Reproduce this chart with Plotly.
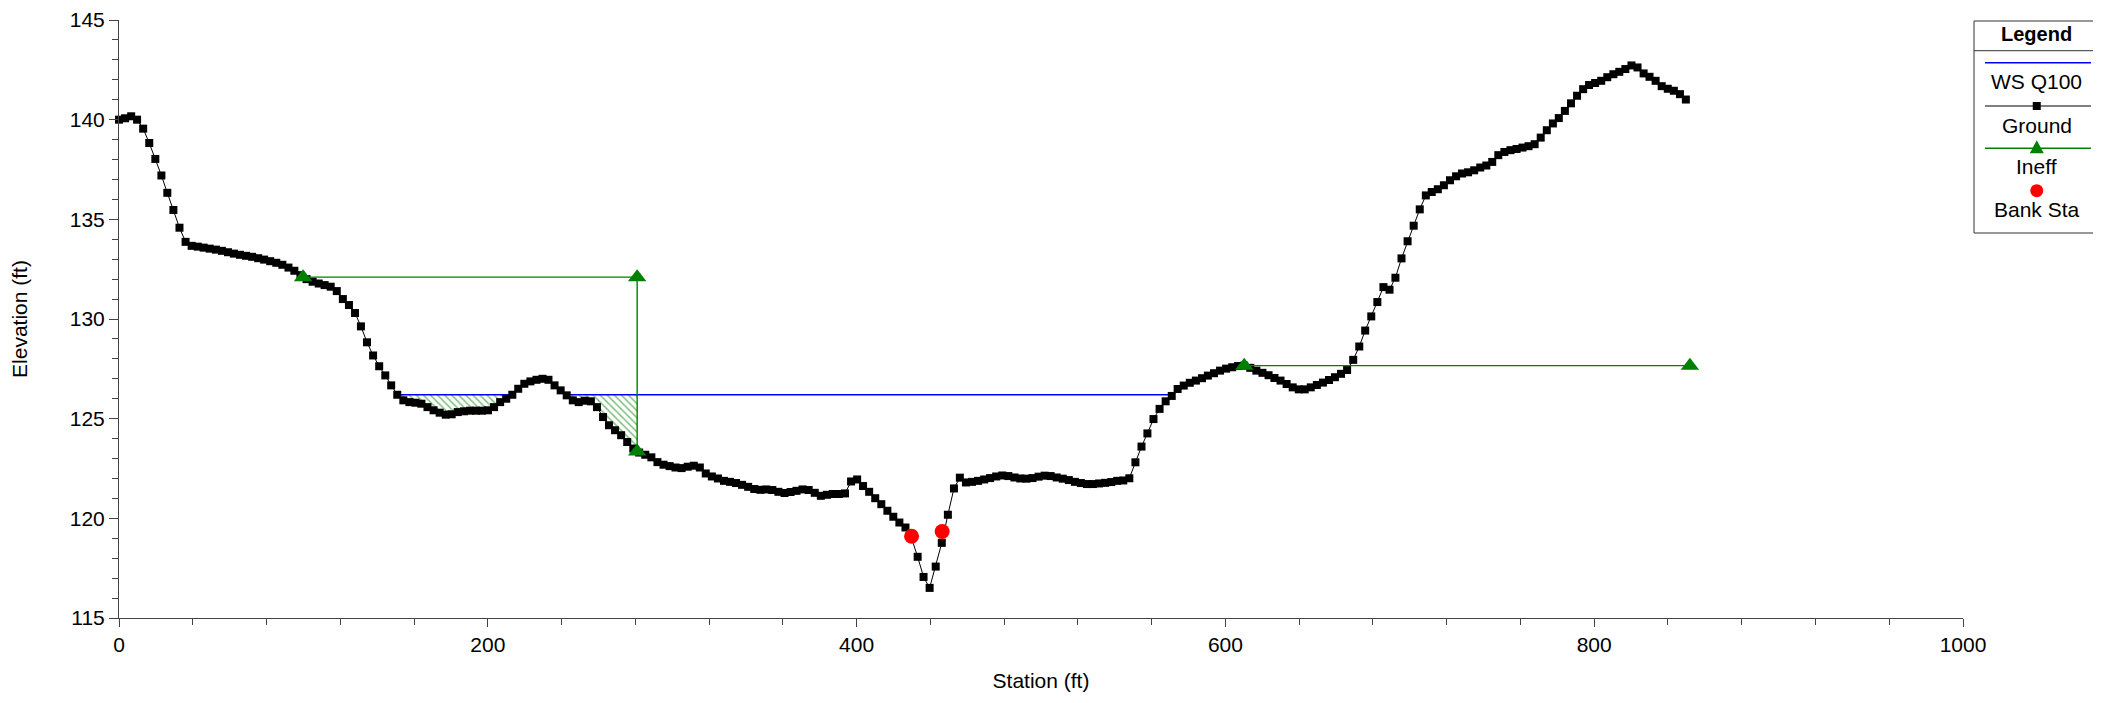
import plotly.graph_objects as go

# ---------------- data ----------------
STATION = [
    0.0, 3.3, 6.6, 9.8, 13.1, 16.4, 19.7, 23.0, 26.2, 29.5,
    32.8, 36.1, 39.4, 42.7, 45.9, 49.2, 52.5, 55.8, 59.1, 62.3,
    65.6, 68.9, 72.2, 75.5, 78.7, 82.0, 85.3, 88.6, 91.9, 95.1,
    98.4, 101.7, 105.0, 108.3, 111.5, 114.8, 118.1, 121.4, 124.7, 128.0,
    131.2, 134.5, 137.8, 141.1, 144.4, 147.6, 150.9, 154.2, 157.5, 160.8,
    164.0, 167.3, 170.6, 173.9, 177.2, 180.4, 183.7, 187.0, 190.3, 193.6,
    196.8, 200.1, 203.4, 206.7, 210.0, 213.3, 216.5, 219.8, 223.1, 226.4,
    229.7, 232.9, 236.2, 239.5, 242.8, 246.1, 249.3, 252.6, 255.9, 259.2,
    262.5, 265.7, 269.0, 272.3, 275.6, 278.9, 282.1, 285.4, 288.7, 292.0,
    295.3, 298.6, 301.8, 305.1, 308.4, 311.7, 315.0, 318.2, 321.5, 324.8,
    328.1, 331.4, 334.6, 337.9, 341.2, 344.5, 347.8, 351.0, 354.3, 357.6,
    360.9, 364.2, 367.4, 370.7, 374.0, 377.3, 380.6, 383.9, 387.1, 390.4,
    393.7, 397.0, 400.3, 403.5, 406.8, 410.1, 413.4, 416.7, 419.9, 423.2,
    426.5, 429.8, 433.1, 436.3, 439.6, 442.9, 446.2, 449.5, 452.8, 456.0,
    459.3, 462.6, 465.9, 469.2, 472.4, 475.7, 479.0, 482.3, 485.6, 488.8,
    492.1, 495.4, 498.7, 502.0, 505.2, 508.5, 511.8, 515.1, 518.4, 521.6,
    524.9, 528.2, 531.5, 534.8, 538.1, 541.3, 544.6, 547.9, 551.2, 554.5,
    557.7, 561.0, 564.3, 567.6, 570.9, 574.1, 577.4, 580.7, 584.0, 587.3,
    590.5, 593.8, 597.1, 600.4, 603.7, 606.9, 610.2, 613.5, 616.8, 620.1,
    623.4, 626.6, 629.9, 633.2, 636.5, 639.8, 643.0, 646.3, 649.6, 652.9,
    656.2, 659.4, 662.7, 666.0, 669.3, 672.6, 675.8, 679.1, 682.4, 685.7,
    689.0, 692.2, 695.5, 698.8, 702.1, 705.4, 708.7, 711.9, 715.2, 718.5,
    721.8, 725.1, 728.3, 731.6, 734.9, 738.2, 741.5, 744.7, 748.0, 751.3,
    754.6, 757.9, 761.1, 764.4, 767.7, 771.0, 774.3, 777.6, 780.8, 784.1,
    787.4, 790.7, 794.0, 797.2, 800.5, 803.8, 807.1, 810.4, 813.6, 816.9,
    820.2, 823.5, 826.8, 830.0, 833.3, 836.6, 839.9, 843.2, 846.5, 849.7,
]
ELEV = [
    140.0, 140.07, 140.17, 140.0, 139.55, 138.83, 138.03, 137.2, 136.33, 135.47,
    134.58, 133.87, 133.67, 133.63, 133.58, 133.53, 133.48, 133.42, 133.35, 133.28,
    133.22, 133.17, 133.12, 133.05, 132.98, 132.9, 132.82, 132.72, 132.58, 132.42,
    132.2, 132.0, 131.87, 131.78, 131.7, 131.62, 131.4, 131.0, 130.7, 130.3,
    129.63, 128.83, 128.17, 127.63, 127.17, 126.67, 126.2, 125.92, 125.83, 125.8,
    125.75, 125.58, 125.42, 125.3, 125.2, 125.22, 125.33, 125.37, 125.4, 125.4,
    125.4, 125.42, 125.58, 125.83, 126.0, 126.2, 126.5, 126.75, 126.87, 126.95,
    127.0, 126.95, 126.67, 126.42, 126.17, 125.92, 125.83, 125.9, 125.87, 125.58,
    125.08, 124.67, 124.42, 124.17, 123.83, 123.5, 123.3, 123.19, 123.06, 122.82,
    122.69, 122.62, 122.55, 122.52, 122.59, 122.64, 122.55, 122.25, 122.1, 122.0,
    121.88, 121.83, 121.77, 121.68, 121.58, 121.47, 121.43, 121.45, 121.42, 121.33,
    121.27, 121.32, 121.38, 121.45, 121.42, 121.28, 121.13, 121.18, 121.22, 121.22,
    121.25, 121.85, 121.95, 121.62, 121.33, 121.01, 120.71, 120.38, 120.08, 119.79,
    119.54, 119.0, 118.07, 117.06, 116.51, 117.58, 118.77, 120.18, 121.5, 122.04,
    121.8, 121.83, 121.88, 121.95, 122.02, 122.1, 122.15, 122.12, 122.05, 122.0,
    121.99, 122.02, 122.09, 122.14, 122.12, 122.05, 121.99, 121.92, 121.83, 121.77,
    121.72, 121.72, 121.75, 121.78, 121.82, 121.88, 121.9, 122.01, 122.81, 123.6,
    124.26, 124.98, 125.49, 125.87, 126.14, 126.49, 126.66, 126.8, 126.91, 127.03,
    127.16, 127.28, 127.41, 127.51, 127.58, 127.64, 127.66, 127.55, 127.41, 127.3,
    127.18, 127.04, 126.91, 126.74, 126.57, 126.47, 126.47, 126.57, 126.69, 126.81,
    126.94, 127.08, 127.25, 127.44, 127.95, 128.62, 129.42, 130.13, 130.85, 131.6,
    131.47, 132.07, 133.04, 133.9, 134.68, 135.5, 136.2, 136.37, 136.51, 136.71,
    136.96, 137.16, 137.3, 137.36, 137.46, 137.6, 137.7, 137.88, 138.22, 138.38,
    138.47, 138.53, 138.6, 138.67, 138.77, 139.1, 139.47, 139.81, 140.08, 140.44,
    140.82, 141.2, 141.53, 141.74, 141.84, 141.95, 142.13, 142.28, 142.4, 142.54,
    142.72, 142.62, 142.32, 142.15, 141.95, 141.68, 141.55, 141.45, 141.28, 141.01,
]
BANK_STA = [429.8, 446.4]
BANK_ELEV = [119.1, 119.34]
INEFF_L_STA = [99.8, 281.0, 281.0]
INEFF_L_ELEV = [132.1, 132.1, 123.35]
INEFF_R_STA = [610.2, 851.9]
INEFF_R_ELEV = [127.66, 127.66]
WS_ELEV = 126.2
WS_EDGES = [150.0, 214.5, 242.3, 571.5]   # wetted edges (left,right) pairs
X_TICKS = [0, 200, 400, 600, 800, 1000]
Y_TICKS = [115, 120, 125, 130, 135, 140, 145]
LEGEND_LABELS = ["WS Q100", "Ground", "Ineff", "Bank Sta"]

BLUE = "#0000FF"
GREEN = "#008000"
RED = "#FF0000"
AXIS = "#444444"
FONT = "Liberation Sans, Arial, sans-serif"

# page has an 8px default body margin; compensate so the plot lands where intended
OFF = 8
W, H = 2101 - OFF, 703 - OFF
PLOT_L, PLOT_R, PLOT_T, PLOT_B = 119, 1963, 20, 618    # page pixel positions
ML, MT = PLOT_L - OFF, PLOT_T - OFF
MR, MB = W - (PLOT_R - OFF), H - (PLOT_B - OFF)
PW, PH = PLOT_R - PLOT_L, PLOT_B - PLOT_T


def px(x):
    return (x - PLOT_L) / PW


def py(y):
    return (PLOT_B - y) / PH


def pocket(x_left, x_right, right_bottom=None):
    xs, ys = [x_left], [WS_ELEV]
    for s, e in zip(STATION, ELEV):
        if x_left < s < x_right:
            xs.append(s)
            ys.append(e)
    if right_bottom is not None:
        xs.append(x_right)
        ys.append(right_bottom)
    xs.append(x_right)
    ys.append(WS_ELEV)
    return xs, ys


fig = go.Figure()

hatch = dict(shape="\\", fgcolor=GREEN, bgcolor="rgba(0,0,0,0)", size=5, solidity=0.3)
for xs, ys in (pocket(WS_EDGES[0], WS_EDGES[1]),
               pocket(WS_EDGES[2], INEFF_L_STA[1], INEFF_L_ELEV[2])):
    fig.add_trace(go.Scatter(x=xs, y=ys, mode="lines", fill="toself",
                             fillcolor="rgba(0,0,0,0)", fillpattern=hatch,
                             line=dict(width=0), hoverinfo="skip", showlegend=False))

fig.add_trace(go.Scatter(
    x=[WS_EDGES[0], WS_EDGES[1], None, WS_EDGES[2], WS_EDGES[3]],
    y=[WS_ELEV, WS_ELEV, None, WS_ELEV, WS_ELEV],
    mode="lines", line=dict(color=BLUE, width=1.6), name=LEGEND_LABELS[0],
    showlegend=False))

fig.add_trace(go.Scatter(
    x=STATION, y=ELEV, mode="lines+markers", name=LEGEND_LABELS[1],
    line=dict(color="black", width=1),
    marker=dict(symbol="square", size=8, color="black"),
    cliponaxis=False, showlegend=False))

for xs, ys in ((INEFF_L_STA, INEFF_L_ELEV), (INEFF_R_STA, INEFF_R_ELEV)):
    fig.add_trace(go.Scatter(
        x=xs, y=ys, mode="lines+markers", name=LEGEND_LABELS[2],
        line=dict(color=GREEN, width=1.4),
        marker=dict(symbol="triangle-up", size=16, color=GREEN),
        cliponaxis=False, showlegend=False))

fig.add_trace(go.Scatter(
    x=BANK_STA, y=BANK_ELEV, mode="markers", name=LEGEND_LABELS[3],
    marker=dict(symbol="circle", size=15, color=RED),
    cliponaxis=False, showlegend=False))

# ---------------- custom legend box ----------------
shapes = []
annotations = []
box_l, box_r, box_t, box_b = 1974, 2099.5, 21, 233
shapes.append(dict(type="rect", xref="paper", yref="paper",
                   x0=px(box_l), x1=px(box_r), y0=py(box_b), y1=py(box_t),
                   line=dict(color="#333333", width=1), fillcolor="white", layer="above"))
shapes.append(dict(type="line", xref="paper", yref="paper",
                   x0=px(box_l), x1=px(box_r), y0=py(50.7), y1=py(50.7),
                   line=dict(color="#333333", width=1)))
cx = (box_l + box_r) / 2
annotations.append(dict(text="<b>Legend</b>", xref="paper", yref="paper",
                        x=px(cx), y=py(33.5), xanchor="center", yanchor="middle",
                        showarrow=False, font=dict(size=20, color="black", family=FONT)))
lx0, lx1 = 1985, 2091
line_ys = [62.7, 106, 148.3, 190.7]
text_ys = [81.7, 125, 167, 209]
# WS line
shapes.append(dict(type="line", xref="paper", yref="paper", x0=px(lx0), x1=px(lx1),
                   y0=py(line_ys[0]), y1=py(line_ys[0]), line=dict(color=BLUE, width=1.6)))
# Ground line + square
shapes.append(dict(type="line", xref="paper", yref="paper", x0=px(lx0), x1=px(lx1),
                   y0=py(line_ys[1]), y1=py(line_ys[1]), line=dict(color="black", width=1)))
shapes.append(dict(type="rect", xref="paper", yref="paper", xsizemode="pixel", ysizemode="pixel",
                   xanchor=px(cx), yanchor=py(line_ys[1]), x0=-4, x1=4, y0=-4, y1=4,
                   fillcolor="black", line=dict(width=0)))
# Ineff line + triangle
shapes.append(dict(type="line", xref="paper", yref="paper", x0=px(lx0), x1=px(lx1),
                   y0=py(line_ys[2]), y1=py(line_ys[2]), line=dict(color=GREEN, width=1.4)))
shapes.append(dict(type="path", xref="paper", yref="paper", xsizemode="pixel", ysizemode="pixel",
                   xanchor=px(cx), yanchor=py(line_ys[2] - 1),
                   path="M -7,-6 L 7,-6 L 0,7 Z", fillcolor=GREEN, line=dict(width=0)))
# Bank circle
shapes.append(dict(type="circle", xref="paper", yref="paper", xsizemode="pixel", ysizemode="pixel",
                   xanchor=px(cx), yanchor=py(line_ys[3]), x0=-6.5, x1=6.5, y0=-6.5, y1=6.5,
                   fillcolor=RED, line=dict(width=0)))
for lab, ty in zip(LEGEND_LABELS, text_ys):
    annotations.append(dict(text=lab, xref="paper", yref="paper", x=px(cx), y=py(ty),
                            xanchor="center", yanchor="middle", showarrow=False,
                            font=dict(size=21, color="black", family=FONT)))

fig.update_layout(
    width=W, height=H,
    margin=dict(l=ML, r=MR, t=MT, b=MB, autoexpand=False),
    plot_bgcolor="white", paper_bgcolor="white",
    showlegend=False,
    font=dict(family=FONT, size=21, color="black"),
    shapes=shapes, annotations=annotations,
    xaxis=dict(range=[0, 1000], tickvals=X_TICKS, ticks="outside", ticklen=8, tickwidth=1,
               tickcolor=AXIS, showline=True, linecolor=AXIS, linewidth=1, showgrid=False,
               zeroline=False, tickfont=dict(size=21),
               minor=dict(dtick=40, tick0=0, ticks="outside", ticklen=6, tickcolor=AXIS, showgrid=False),
               title=dict(text="Station (ft)", font=dict(size=21), standoff=18)),
    yaxis=dict(range=[115, 145], tickvals=Y_TICKS, ticks="outside", ticklen=9, tickwidth=1,
               tickcolor=AXIS, showline=True, linecolor=AXIS, linewidth=1, showgrid=False,
               zeroline=False, tickfont=dict(size=21),
               minor=dict(dtick=1, tick0=115, ticks="outside", ticklen=6, tickcolor=AXIS, showgrid=False),
               title=dict(text="Elevation (ft)", font=dict(size=21), standoff=36)),
)

fig.write_html("out.html")
